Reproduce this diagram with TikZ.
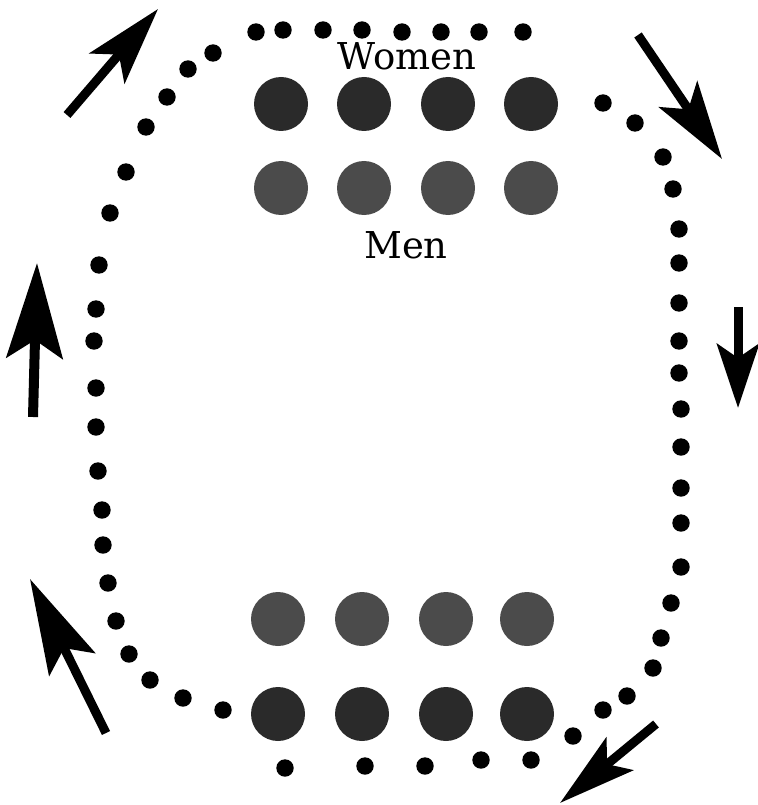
\documentclass[tikz,border=0pt]{standalone}
\usepackage{fontspec}
\setmainfont{DejaVu Serif}
\usetikzlibrary{arrows.meta}
\definecolor{womencol}{HTML}{2A2A2A}
\definecolor{mencol}{HTML}{4B4B4B}
\begin{document}
\begin{tikzpicture}[x=1pt,y=-1pt,
  trail/.style={fill=black},
  person/.style={circle,minimum size=54pt,inner sep=0pt},
  woman/.style={person,fill=womencol},
  man/.style={person,fill=mencol},
  flow/.style={line width=9pt,-{Stealth[length=#1,width=46pt,inset=18pt]}},
  flow/.default=78pt,
  label/.style={font=\fontsize{37}{44}\selectfont,anchor=base}]
\useasboundingbox (0,0) rectangle (757,805);
% trail of small dots
\foreach \p in {(256,32),(283,30),(323,30),(362,30),(402,32),(441,32),(479,32),(523,32),
  (213,53),(188,69),(167,97),(146,127),(126,172),(110,213),(99,265),
  (96,309),(94,341),(96,388),(96,427),(98,471),(102,510),(103,545),
  (108,583),(116,621),(129,654),(150,680),(183,698),(223,710),
  (285,768),(365,766),(425,766),(481,760),(531,760),
  (573,736),(603,710),(627,696),(653,668),(661,638),(671,603),(681,567),
  (681,523),(681,488),(681,447),(681,409),(679,373),(679,341),(679,303),(679,263),
  (679,229),(673,189),(663,157),(635,123),(603,103)}
  \fill[trail] \p circle (8.7pt);
% dancers
\foreach \x [count=\i] in {281,364,448,531}{
  \node[woman] (wt\i) at (\x,104) {};
  \node[man]   (mt\i) at (\x,188) {};
}
\foreach \x [count=\i] in {278,362,446,527}{
  \node[man]   (mb\i) at (\x,619) {};
  \node[woman] (wb\i) at (\x,714) {};
}
\node[label] (women) at (407,70) {Women};
\node[label] (men) at (406,258) {Men};
% arrows
\coordinate (a1s) at (67,115);  \coordinate (a1e) at (158,9);
\coordinate (a2s) at (638,35);  \coordinate (a2e) at (722,159);
\coordinate (a3s) at (33,417);  \coordinate (a3e) at (37,263);
\coordinate (a4s) at (738,307); \coordinate (a4e) at (738,408);
\coordinate (a5s) at (106,733); \coordinate (a5e) at (30,579);
\coordinate (a6s) at (656,724); \coordinate (a6e) at (560,803);
\draw[flow] (a1s) -- (a1e);
\draw[flow] (a2s) -- (a2e);
\draw[line width=10pt,-{Stealth[length=95pt,width=56pt,inset=18pt]}] (a3s) -- (a3e);
\draw[line width=9pt,-{Stealth[length=64pt,width=42pt,inset=14pt]}] (a4s) -- (a4e);
\draw[line width=9pt,-{Stealth[length=95pt,width=51pt,inset=18pt]}] (a5s) -- (a5e);
\draw[line width=9pt,-{Stealth[length=77pt,width=42pt,inset=16pt]}] (a6s) -- (a6e);
\end{tikzpicture}
\end{document}
